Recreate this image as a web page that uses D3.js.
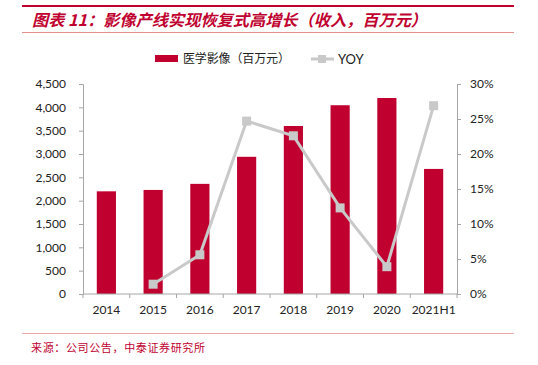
<!DOCTYPE html>
<html><head><meta charset="utf-8">
<script src="https://cdn.jsdelivr.net/npm/d3@7"></script>
<style>body{margin:0;background:#fff}svg{display:block}</style>
</head><body>
<script>
const categories = ["2014","2015","2016","2017","2018","2019","2020","2021H1"];
const revenue = [2200, 2230, 2360, 2940, 3600, 4045, 4200, 2680];
const yoy = [null, 0.014, 0.056, 0.247, 0.226, 0.123, 0.039, 0.269];
const leftTicks = [0,500,1000,1500,2000,2500,3000,3500,4000,4500];
const rightTicks = [0,0.05,0.10,0.15,0.20,0.25,0.30];
const titleText = "图表 11：影像产线实现恢复式高增长（收入，百万元）";
const sourceText = "来源：公司公告，中泰证券研究所";
const legendBar = "医学影像（百万元）";
const legendLine = "YOY";

const W = 538, H = 365;
const red = "#C0002F", grey = "#C9C9C9", axisCol = "#A6A6A6";
const svg = d3.select("body").append("svg").attr("width", W).attr("height", H);
const latin = "Lato, 'Open Sans', sans-serif";
const cjk = "'Noto Sans CJK SC', sans-serif";

// header rules
svg.append("line").attr("x1",22).attr("x2",514).attr("y1",6).attr("y2",6).attr("stroke",red).attr("stroke-width",2);
svg.append("text").attr("x",32).attr("y",26).attr("fill",red).attr("font-family",cjk)
  .attr("font-size",16).attr("font-weight","bold").attr("font-style","italic")
  .attr("textLength",395).attr("lengthAdjust","spacingAndGlyphs").text(titleText);
svg.append("line").attr("x1",22).attr("x2",514).attr("y1",32.5).attr("y2",32.5).attr("stroke","#E07070").attr("stroke-width",0.8);

const x = d3.scaleBand().domain(categories).range([83,457]).paddingInner(0.59).paddingOuter(0.295);
const xb = d3.scaleBand().domain(categories).range([83,457]);
const yL = d3.scaleLinear().domain([0,4500]).range([294,84]);
const yR = d3.scaleLinear().domain([0,0.30]).range([294,84]);

// bars
svg.append("g").selectAll("rect").data(revenue).join("rect")
  .attr("x",(d,i)=>x(categories[i])).attr("width",x.bandwidth())
  .attr("y",d=>yL(d)).attr("height",d=>yL(0)-yL(d)).attr("fill",red);

// axes
const gl = svg.append("g").attr("transform","translate(83,0)")
  .call(d3.axisLeft(yL).tickValues(leftTicks).tickFormat(d3.format(",")).tickSize(4).tickPadding(13));
const gr = svg.append("g").attr("transform","translate(457,0)")
  .call(d3.axisRight(yR).tickValues(rightTicks).tickFormat(d3.format(".0%")).tickSize(4).tickPadding(9));
const gx = svg.append("g").attr("transform","translate(0,294)")
  .call(d3.axisBottom(xb).tickSize(0).tickPadding(11));
// category boundary ticks
svg.append("g").selectAll("line").data(d3.range(categories.length+1)).join("line")
  .attr("x1",i=>83+i*xb.bandwidth()).attr("x2",i=>83+i*xb.bandwidth())
  .attr("y1",294).attr("y2",298).attr("stroke",axisCol);
[gl,gr,gx].forEach(g=>{
  g.selectAll("path,line").attr("stroke",axisCol);
  g.selectAll("text").attr("font-family",latin).attr("font-size",12).attr("fill","#222");
});
gx.select(".domain").remove();
svg.append("line").attr("x1",83).attr("x2",457).attr("y1",294).attr("y2",294).attr("stroke",axisCol);

// yoy line
const pts = yoy.map((v,i)=>({v,c:categories[i]})).filter(d=>d.v!==null);
svg.append("path").datum(pts)
  .attr("d",d3.line().x(d=>xb(d.c)+xb.bandwidth()/2).y(d=>yR(d.v)))
  .attr("fill","none").attr("stroke",grey).attr("stroke-width",3);
svg.append("g").selectAll("rect").data(pts).join("rect")
  .attr("x",d=>xb(d.c)+xb.bandwidth()/2-4.5).attr("y",d=>yR(d.v)-4.5)
  .attr("width",9).attr("height",9).attr("fill",grey);

// legend
svg.append("rect").attr("x",155).attr("y",55).attr("width",23).attr("height",7).attr("fill",red);
svg.append("text").attr("x",183).attr("y",63).attr("font-family",cjk).attr("font-size",12).attr("fill","#222")
  .attr("textLength",107).attr("lengthAdjust","spacing").text(legendBar);
svg.append("line").attr("x1",311).attr("x2",334).attr("y1",59).attr("y2",59).attr("stroke",grey).attr("stroke-width",3);
svg.append("rect").attr("x",318).attr("y",55).attr("width",8).attr("height",8).attr("fill",grey);
svg.append("text").attr("x",338).attr("y",64).attr("font-family",latin).attr("font-size",13).attr("fill","#222").text(legendLine);

// footer
svg.append("line").attr("x1",22).attr("x2",514).attr("y1",333.5).attr("y2",333.5).attr("stroke","#E89090").attr("stroke-width",0.8);
svg.append("text").attr("x",31).attr("y",352).attr("font-family",cjk).attr("font-size",11).attr("fill",red)
  .attr("textLength",174).attr("lengthAdjust","spacing").text(sourceText);
</script>
</body></html>
